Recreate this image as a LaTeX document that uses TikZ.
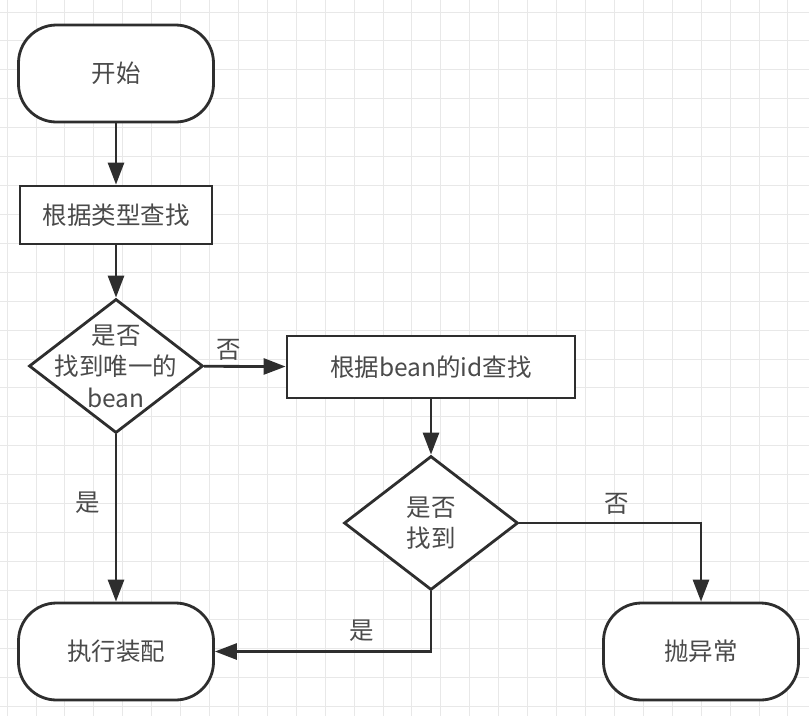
\documentclass[tikz,border=0pt]{standalone}
\usepackage{fontspec}
\setmainfont{Noto Sans CJK SC}
\usetikzlibrary{shapes.geometric,arrows.meta}
\definecolor{ink}{HTML}{2E2E2E}
\definecolor{txtc}{HTML}{4A4A4A}
\definecolor{gridc}{HTML}{E8E8E8}
\begin{document}
\begin{tikzpicture}[x=1pt,y=-1pt,
  every node/.style={font=\fontsize{24.5}{31.5}\selectfont, text=txtc},
  shp/.style={draw=ink, line width=2.8pt, fill=white, inner sep=0pt},
  term/.style={shp, rectangle, rounded corners=38pt, minimum width=195pt, minimum height=97pt},
  procbox/.style={shp, rectangle, minimum width=192pt, minimum height=58pt},
  dec/.style={shp, diamond, minimum width=174pt, minimum height=134pt, shape aspect=1.3},
  txt/.style={align=center, inner sep=0pt},
  arr/.style={draw=ink, line width=2.8pt, -{Triangle[length=22pt,width=16pt]}}
]
\useasboundingbox (0,0) rectangle (809,716);
\fill[white] (0,0) rectangle (809,716);
\foreach \i in {0,...,27} \draw[gridc, line width=1pt] ({7.1+28.92*\i},0) -- ({7.1+28.92*\i},716);
\foreach \j in {0,...,24} \draw[gridc, line width=1pt] (0,{12+28.92*\j}) -- (809,{12+28.92*\j});

\node[term] (start) at (116,73.5) {开始};
\node[procbox] (b1) at (116,215) {根据类型查找};
\node[dec] (d1) at (116,366) {};
\node[txt] (d1t) at (d1) {是否\\找到唯一的\\bean};
\node[procbox, minimum width=288pt, minimum height=62pt] (b2) at (431,367) {根据bean的id查找};
\node[dec] (d2) at (431,523) {};
\node[txt] (d2t) at (d2) {是否\\找到};
\node[term] (exec) at (116,651.5) {执行装配};
\node[term] (thr) at (701,651.5) {抛异常};

\draw[arr] (start) -- (b1);
\draw[arr] (b1) -- (d1);
\draw[arr] (d1) -- (b2);
\draw[arr] (b2) -- (d2);
\draw[arr] (d1) -- (exec);
\draw[arr] (d2.south) |- (exec.east);
\draw[arr] (d2.east) -| (thr.north);

\node (l1) at (229,350) {否};
\node (l2) at (88,503) {是};
\node (l3) at (362,631) {是};
\node (l4) at (617,504) {否};
\end{tikzpicture}
\end{document}
